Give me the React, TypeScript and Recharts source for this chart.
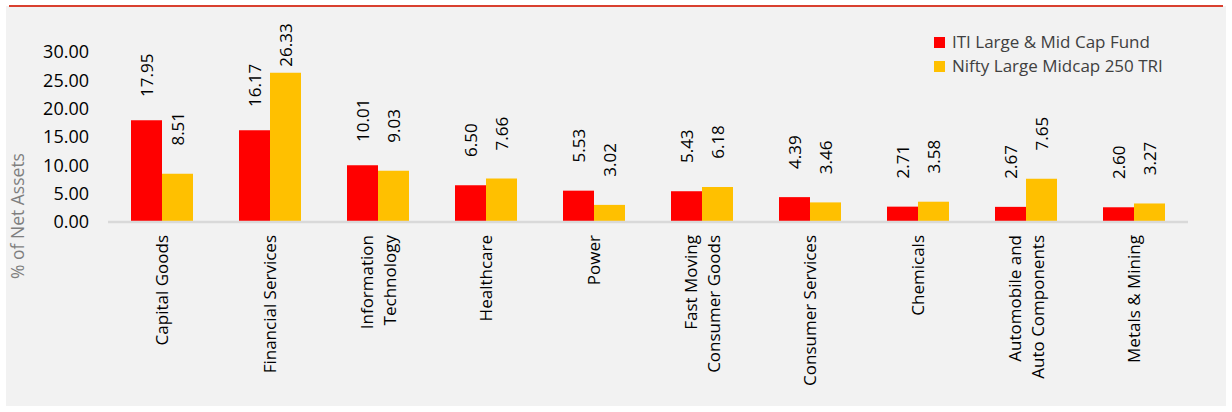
import { BarChart, Bar, XAxis, YAxis, LabelList, Label } from 'recharts';

const categories = [
  'Capital Goods',
  'Financial Services',
  'Information\nTechnology',
  'Healthcare',
  'Power',
  'Fast Moving\nConsumer Goods',
  'Consumer Services',
  'Chemicals',
  'Automobile and\nAuto Components',
  'Metals & Mining',
];
const fundValues = [17.95, 16.17, 10.01, 6.5, 5.53, 5.43, 4.39, 2.71, 2.67, 2.6];
const benchValues = [8.51, 26.33, 9.03, 7.66, 3.02, 6.18, 3.46, 3.58, 7.65, 3.27];
const seriesNames = ['ITI Large & Mid Cap Fund', 'Nifty Large Midcap 250 TRI'];
const seriesColors = ['#FF0000', '#FFC000'];
const yTicks = [0, 5, 10, 15, 20, 25, 30];

const FONT = '"Open Sans", sans-serif';

const data = categories.map((name, i) => ({
  name,
  fund: fundValues[i],
  bench: benchValues[i],
}));

const CategoryTick = (props: any) => {
  const { x, y, payload } = props;
  const lines = String(payload.value).split('\n');
  const step = 23;
  const start = x - ((lines.length - 1) * step) / 2;
  return (
    <g>
      {lines.map((line, i) => (
        <text
          key={i}
          x={0}
          y={0}
          transform={`translate(${start + i * step},${y}) rotate(-90)`}
          textAnchor="end"
          dy="0.36em"
          fontSize={17}
          fontFamily={FONT}
          fill="#000"
        >
          {line}
        </text>
      ))}
    </g>
  );
};

const ValueLabel = (props: any) => {
  const { x, y, width, value } = props;
  const cx = x + width / 2;
  // excel keeps the label inside the chart when the bar is tall
  const cy = Math.max(y - 45, 45);
  return (
    <text
      x={0}
      y={0}
      transform={`translate(${cx},${cy}) rotate(-90)`}
      textAnchor="middle"
      dy="0.36em"
      fontSize={17}
      fontFamily={FONT}
      fill="#000"
    >
      {Number(value).toFixed(2)}
    </text>
  );
};

const YTitle = () => (
  <text
    x={0}
    y={0}
    transform="translate(18,216) rotate(-90)"
    textAnchor="middle"
    dy="0.36em"
    fontSize={17.5}
    fontFamily={FONT}
    fill="#7f7f7f"
  >
    % of Net Assets
  </text>
);

export default function App() {
  return (
    <div style={{ position: 'relative', width: 1232, height: 412, background: '#fff' }}>
      <style>{'body{margin:0}'}</style>
      <div
        style={{
          position: 'absolute',
          left: 6,
          top: 6,
          width: 1220,
          height: 400,
          background: '#f2f2f2',
        }}
      />
      <div
        style={{
          position: 'absolute',
          left: 9,
          top: 5,
          width: 1214,
          height: 2,
          background: '#d9402f',
        }}
      />
      <div style={{ position: 'absolute', left: 0, top: 0 }}>
        <BarChart
          width={1232}
          height={412}
          data={data}
          margin={{ top: 52, right: 44, left: 0, bottom: 0 }}
          barGap={0}
        >
          <XAxis
            dataKey="name"
            interval={0}
            height={190}
            tickSize={0}
            tickMargin={13}
            tickLine={false}
            axisLine={{ stroke: '#d9d9d9', strokeWidth: 2.5 }}
            tick={<CategoryTick />}
          />
          <YAxis
            width={108}
            domain={[0, 30]}
            ticks={yTicks}
            interval={0}
            tickSize={0}
            tickMargin={19}
            axisLine={false}
            tickLine={false}
            tickFormatter={(v: number) => v.toFixed(2)}
            tick={{ fontSize: 18, fontFamily: FONT, fill: '#000' }}
          >
            <Label content={<YTitle />} />
          </YAxis>
          <Bar dataKey="fund" fill={seriesColors[0]} barSize={31} isAnimationActive={false}>
            <LabelList dataKey="fund" content={<ValueLabel />} />
          </Bar>
          <Bar dataKey="bench" fill={seriesColors[1]} barSize={31} isAnimationActive={false}>
            <LabelList dataKey="bench" content={<ValueLabel />} />
          </Bar>
        </BarChart>
      </div>
      <div
        style={{
          position: 'absolute',
          left: 934,
          top: 30,
          fontFamily: FONT,
          fontSize: 17,
          color: '#404040',
          lineHeight: '24px',
        }}
      >
        {seriesNames.map((name, i) => (
          <div key={name} style={{ display: 'flex', alignItems: 'center' }}>
            <span
              style={{
                display: 'inline-block',
                width: 11,
                height: 11,
                background: seriesColors[i],
                marginRight: 7,
              }}
            />
            {name}
          </div>
        ))}
      </div>
    </div>
  );
}
